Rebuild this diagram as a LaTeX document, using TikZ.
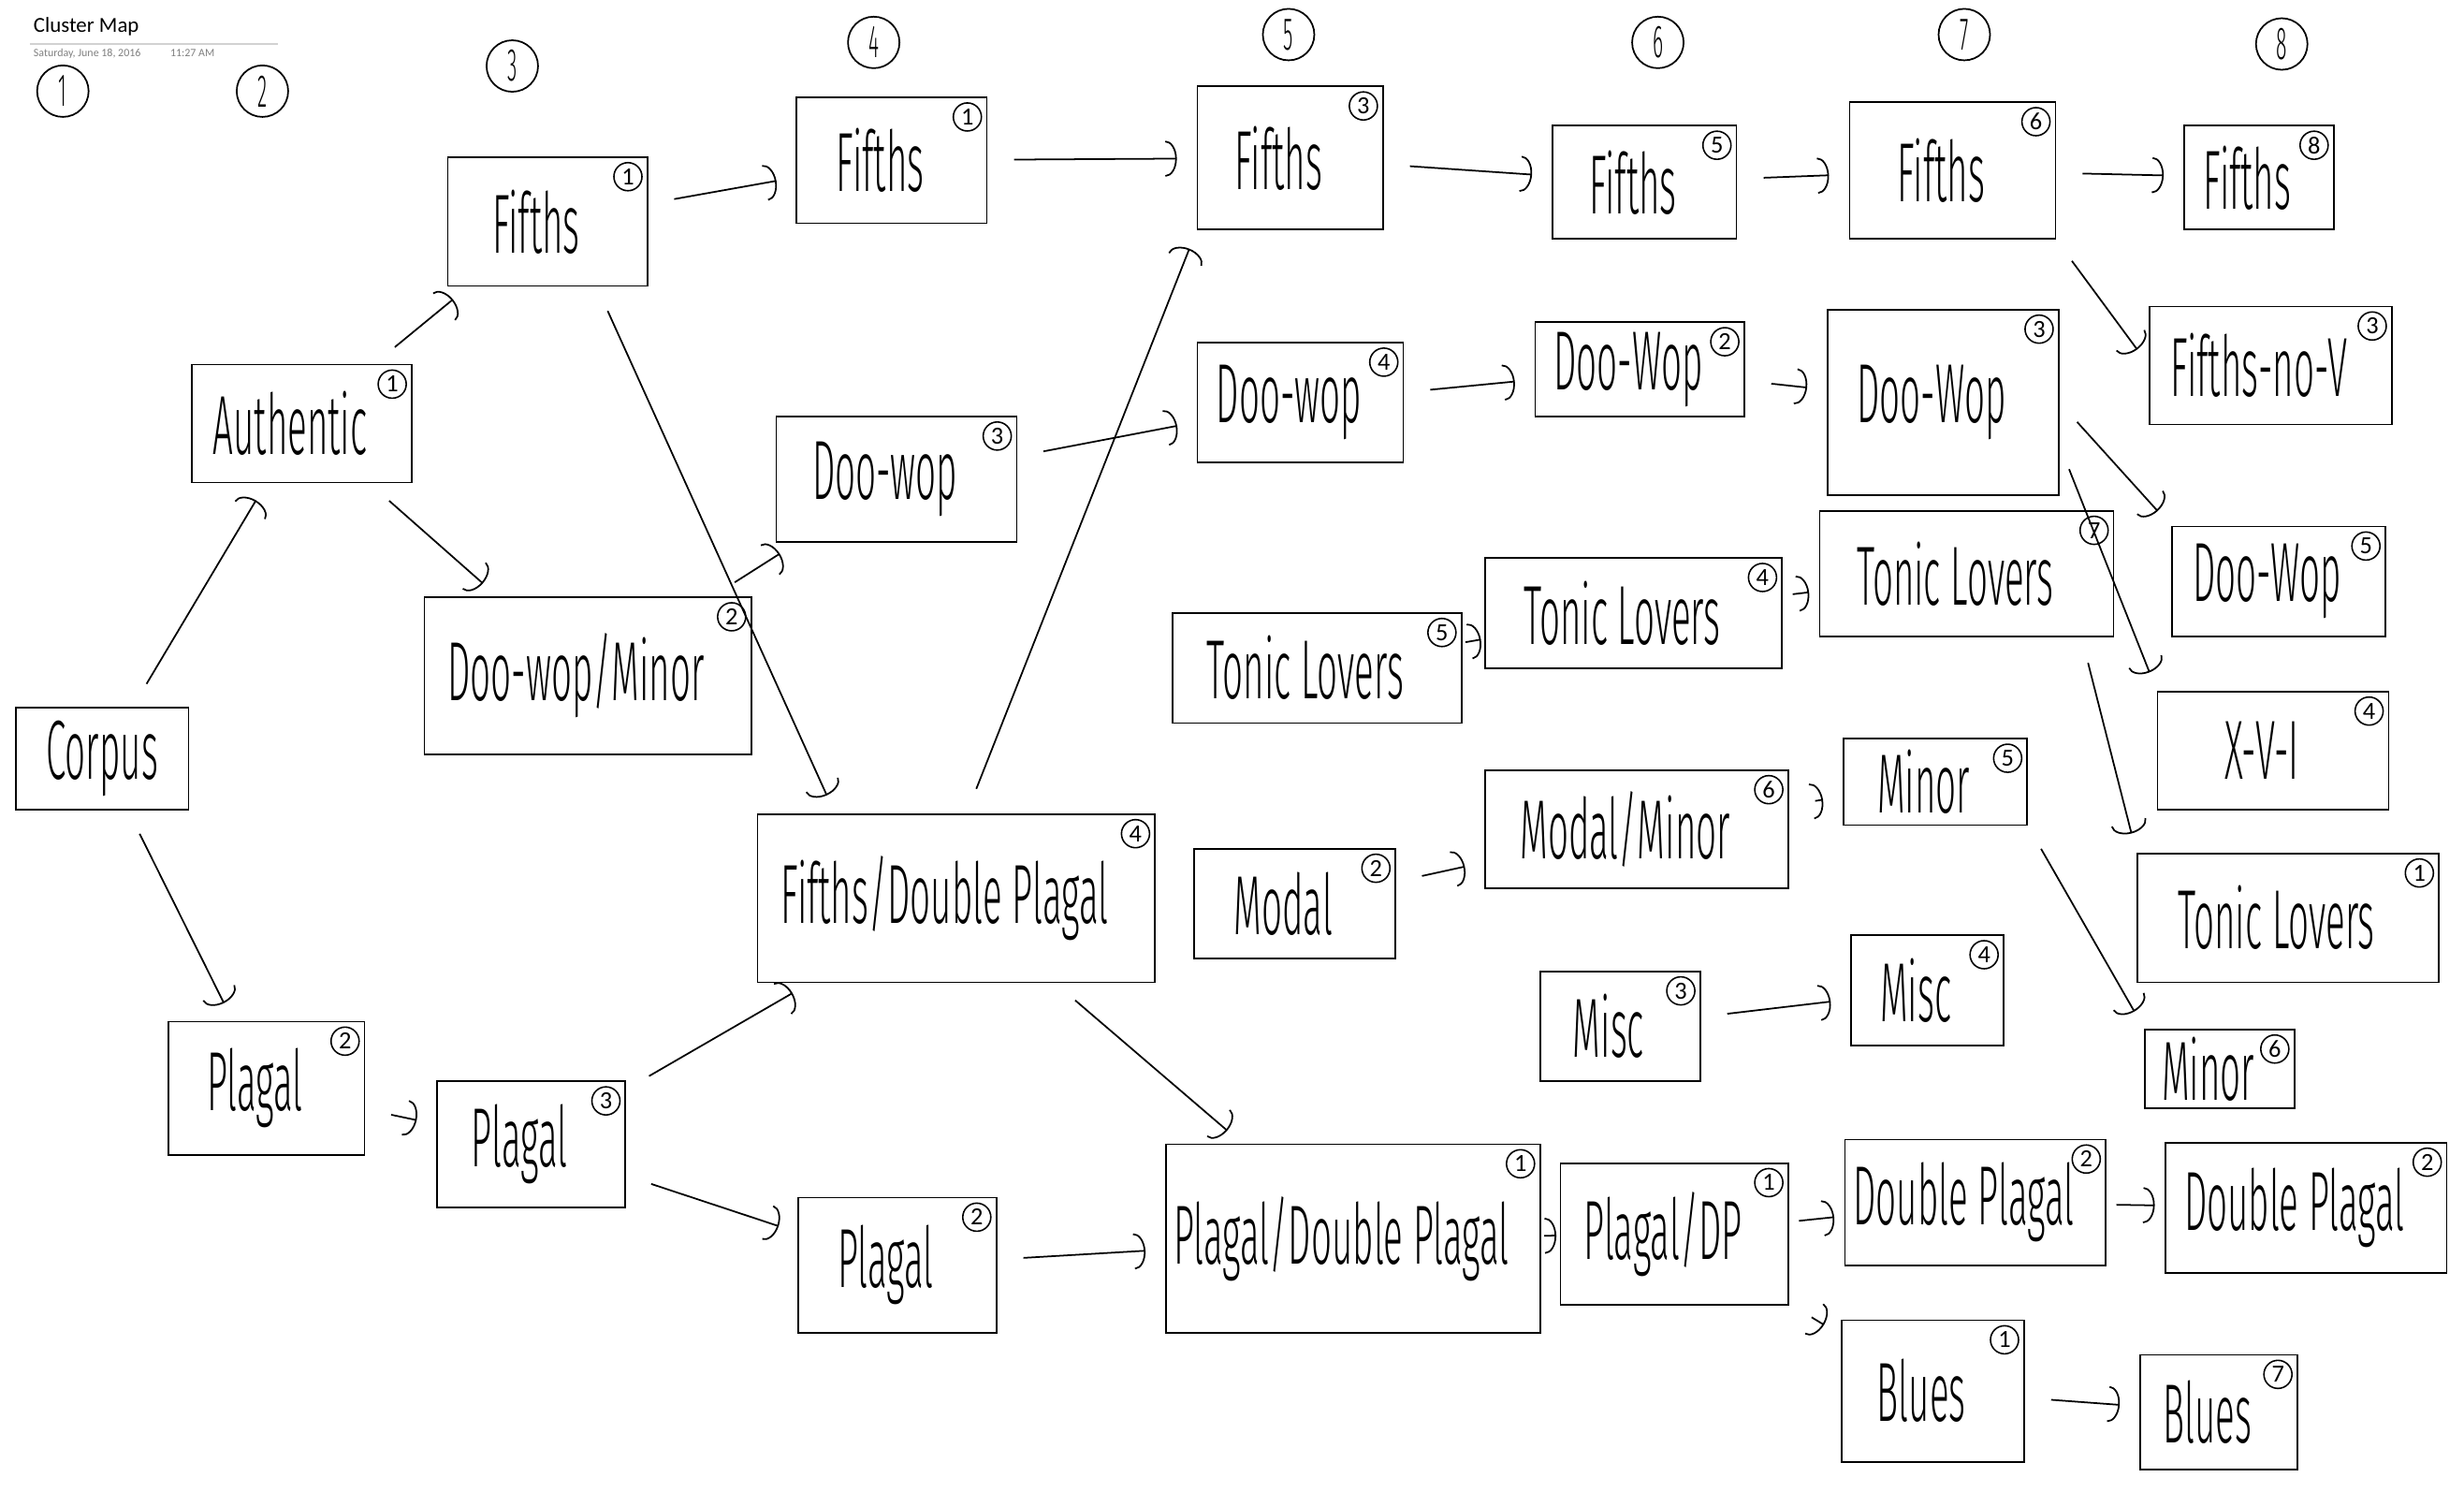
\documentclass[tikz,border=0pt]{standalone}
\usepackage{fontspec}
\setmainfont{Carlito}
\newfontfamily\handfont[FakeStretch=0.43]{Fira Sans Light}
\usetikzlibrary{arrows.meta}

% plain box from corner (x1,y1) to (x2,y2): name, x1, y1, x2, y2, label
\newcommand\plainbox[6]{%
  \node[box,minimum width={(#4-#2)*0.01679cm},minimum height={(#5-#3)*0.01679cm}]
    (#1) at ({(#2+#4)/2},{(#3+#5)/2}) {#6};}
% cluster box with its circled count in the upper right corner
\newcommand\clbox[7]{%
  \node[box,minimum width={(#4-#2)*0.01679cm},minimum height={(#5-#3)*0.01679cm},
        label={[badge,anchor=north east,xshift=-3pt,yshift=-3pt]north east:#7}]
    (#1) at ({(#2+#4)/2},{(#3+#5)/2}) {#6\hspace*{7pt}};}

\begin{document}
\begin{tikzpicture}[x=0.01679cm,y=-0.01679cm,
  box/.style={draw,line width=0.5pt,inner sep=0pt,font=\handfont\fontsize{25.5}{28}\selectfont},
  badge/.style={circle,draw,line width=0.45pt,inner sep=0.5pt,minimum size=0.3cm,font=\fontsize{7.5}{8}\selectfont},
  colnum/.style={circle,draw,line width=0.5pt,minimum size=0.55cm,inner sep=0pt,font=\handfont\fontsize{14}{15}\selectfont},
  arr/.style={line width=0.5pt,-{Arc Barb[length=3.5pt,width=11pt]},shorten <=8pt,shorten >=6pt},
  tight/.style={shorten <=1pt,shorten >=1pt}]

\useasboundingbox (0,0) rectangle (1568,949);
\fill[white] (0,0) rectangle (1568,949);

% page header
\node[anchor=west,inner sep=0pt,font=\fontsize{6.5}{7}\selectfont] (title) at (21,17) {Cluster Map};
\draw[gray!35,line width=0.4pt] (19,28) -- (177,28);
\node[anchor=west,inner sep=0pt,text=gray,font=\fontsize{3.4}{4}\selectfont] (date) at (21,34) {Saturday, June 18, 2016};
\node[anchor=west,inner sep=0pt,text=gray,font=\fontsize{3.4}{4}\selectfont] (time) at (108,34) {11:27 AM};

% stage numbers
\node[colnum] (s1) at (40,58) {1};
\node[colnum] (s2) at (167,58) {2};
\node[colnum] (s3) at (326,42) {3};
\node[colnum] (s4) at (556,27) {4};
\node[colnum] (s5) at (820,22) {5};
\node[colnum] (s6) at (1055,27) {6};
\node[colnum] (s7) at (1250,22) {7};
\node[colnum] (s8) at (1452,28) {8};

% stage 1
\plainbox{corpus}{10}{450}{120}{515}{Corpus}

% stage 2
\clbox{auth}{122}{232}{262}{307}{Authentic}{1}
\clbox{plag2}{107}{650}{232}{735}{Plagal}{2}

% stage 3
\clbox{fif3}{285}{100}{412}{182}{Fifths}{1}
\clbox{dwm3}{270}{380}{478}{480}{Doo-wop/Minor}{2}
\clbox{plag3}{278}{688}{398}{768}{Plagal}{3}

% stage 4
\clbox{fif4}{507}{62}{628}{142}{Fifths}{1}
\clbox{dw4}{494}{265}{647}{345}{Doo-wop}{3}
\clbox{fdp4}{482}{518}{735}{625}{Fifths/Double Plagal}{4}
\clbox{plag4}{508}{762}{634}{848}{Plagal}{2}

% stage 5
\clbox{fif5}{762}{55}{880}{146}{Fifths}{3}
\clbox{dw5}{762}{218}{893}{294}{Doo-wop}{4}
\clbox{tl5}{746}{390}{930}{460}{Tonic Lovers}{5}
\clbox{mod5}{760}{540}{888}{610}{Modal}{2}
\clbox{pdp5}{742}{728}{980}{848}{Plagal/Double Plagal}{1}

% stage 6
\clbox{fif6}{988}{80}{1105}{152}{Fifths}{5}
\clbox{dw6}{977}{205}{1110}{265}{Doo-Wop}{2}
\clbox{tl6}{945}{355}{1134}{425}{Tonic Lovers}{4}
\clbox{mm6}{945}{490}{1138}{565}{Modal/Minor}{6}
\clbox{misc6}{980}{618}{1082}{688}{Misc}{3}
\clbox{pdp6}{993}{740}{1138}{830}{Plagal/DP}{1}

% stage 7
\clbox{fif7}{1177}{65}{1308}{152}{Fifths}{6}
\clbox{dw7}{1163}{197}{1310}{315}{Doo-Wop}{3}
\clbox{tl7}{1158}{325}{1345}{405}{Tonic Lovers}{7}
\clbox{min7}{1173}{470}{1290}{525}{Minor}{5}
\clbox{misc7}{1178}{595}{1275}{665}{Misc}{4}
\clbox{dp7}{1174}{725}{1340}{805}{Double Plagal}{2}
\clbox{blu7}{1172}{840}{1288}{930}{Blues}{1}

% stage 8
\clbox{fif8}{1390}{80}{1485}{146}{Fifths}{8}
\clbox{fnv8}{1368}{195}{1522}{270}{Fifths-no-V}{3}
\clbox{dw8}{1382}{335}{1518}{405}{Doo-Wop}{5}
\clbox{xvi8}{1373}{440}{1520}{515}{X-V-I}{4}
\clbox{tl8}{1360}{543}{1552}{625}{Tonic Lovers}{1}
\clbox{min8}{1365}{655}{1460}{705}{Minor}{6}
\clbox{dp8}{1378}{727}{1557}{810}{Double Plagal}{2}
\clbox{blu8}{1362}{862}{1462}{935}{Blues}{7}

% transitions between stages
\draw[arr] (corpus) -- (auth);
\draw[arr] (corpus) -- (plag2);
\draw[arr] (auth) -- (fif3);
\draw[arr] (auth) -- (dwm3);
\draw[arr] (plag2) -- (plag3);

\draw[arr] (fif3) -- (fif4);
\draw[arr] (fif3.307) -- (fdp4.145);
\draw[arr] (dwm3) -- (dw4);
\draw[arr] (plag3) -- (fdp4);
\draw[arr] (plag3) -- (plag4);

\draw[arr] (fif4) -- (fif5);
\draw[arr] (dw4) -- (dw5);
\draw[arr] (fdp4.83) -- (fif5.south west);
\draw[arr] (fdp4) -- (pdp5);
\draw[arr] (plag4) -- (pdp5);

\draw[arr] (fif5) -- (fif6);
\draw[arr] (dw5) -- (dw6);
\draw[arr,tight] (tl5) -- (tl6);
\draw[arr] (mod5) -- (mm6);
\draw[arr,tight] (pdp5) -- (pdp6);

\draw[arr] (fif6) -- (fif7);
\draw[arr] (dw6) -- (dw7);
\draw[arr,shorten <=3pt,shorten >=3pt] (tl6) -- (tl7);
\draw[arr] (mm6) -- (min7);
\draw[arr] (misc6) -- (misc7);
\draw[arr,shorten <=3pt,shorten >=3pt] (pdp6) -- (dp7);
\draw[arr] (pdp6) -- (blu7);

\draw[arr] (fif7) -- (fif8);
\draw[arr] (fif7.south east) -- (fnv8.west);
\draw[arr] (dw7.east) -- (dw8.north west);
\draw[arr] (dw7.-20) -- (xvi8.north west);
\draw[arr] (tl7.-29) -- (tl8.north west);
\draw[arr] (min7.south east) -- (min8.north west);
\draw[arr,shorten <=3pt,shorten >=3pt] (dp7) -- (dp8);
\draw[arr] (blu7) -- (blu8);
\end{tikzpicture}
\end{document}
